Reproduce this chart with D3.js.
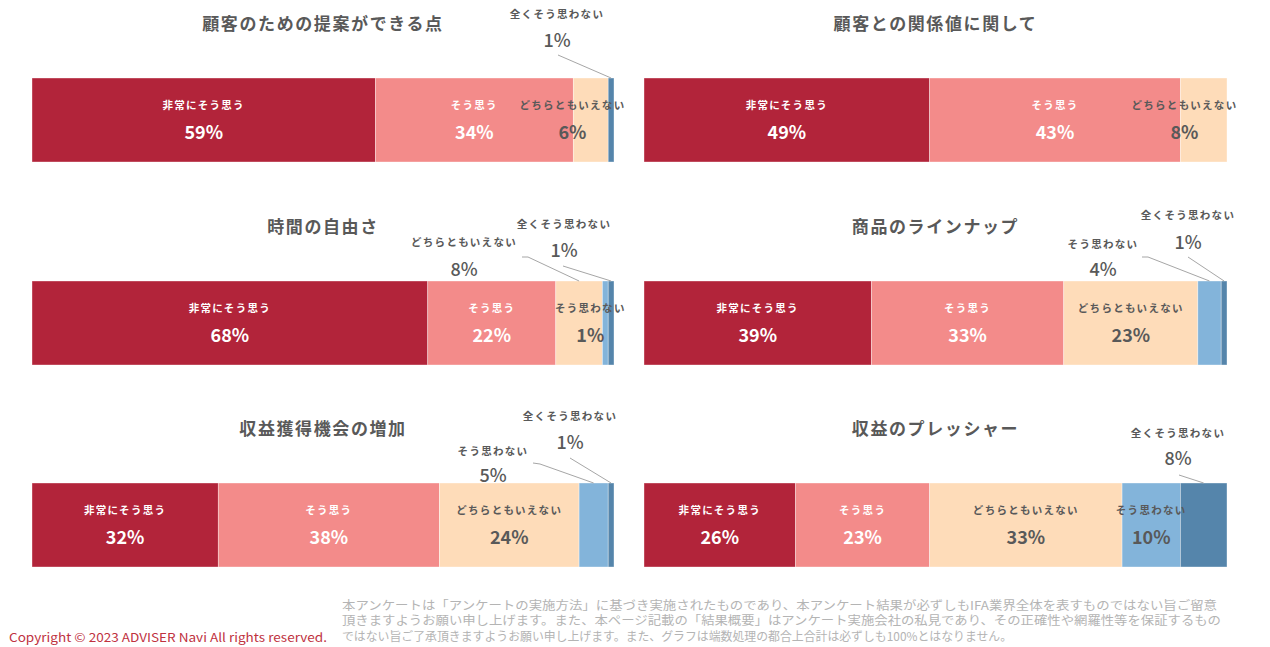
<!DOCTYPE html>
<html><head><meta charset="utf-8">
<script src="https://cdn.jsdelivr.net/npm/d3@7"></script>
<style>
html,body{margin:0;padding:0;background:#fff;}
svg{display:block;font-family:"Noto Sans CJK JP","Noto Sans",sans-serif;}
</style></head>
<body>
<svg id="chart" width="1270" height="647"></svg>
<script>
// ---- data ----
const categories = ["非常にそう思う", "そう思う", "どちらともいえない", "そう思わない", "全くそう思わない"];
const chartTitles = ["顧客のための提案ができる点", "顧客との関係値に関して", "時間の自由さ", "商品のラインナップ", "収益獲得機会の増加", "収益のプレッシャー"];
const valuesProposal  = [59, 34, 6, 0, 1];
const valuesRelation  = [49, 43, 8, 0, 0];
const valuesTime      = [68, 22, 8, 1, 1];
const valuesLineup    = [39, 33, 23, 4, 1];
const valuesOpportun  = [32, 38, 24, 5, 1];
const valuesPressure  = [26, 23, 33, 10, 8];
const seriesValues = [valuesProposal, valuesRelation, valuesTime, valuesLineup, valuesOpportun, valuesPressure];
const axisTicks = [0, 100];
const copyrightText = "Copyright © 2023 ADVISER Navi All rights reserved.";
const noteLines = [
  "本アンケートは「アンケートの実施方法」に基づき実施されたものであり、本アンケート結果が必ずしもIFA業界全体を表すものではない旨ご留意",
  "頂きますようお願い申し上げます。また、本ページ記載の「結果概要」はアンケート実施会社の私見であり、その正確性や網羅性等を保証するもの",
  "ではない旨ご了承頂きますようお願い申し上げます。また、グラフは端数処理の都合上合計は必ずしも100%とはなりません。"
];

// ---- layout / style ----
const colors = ["#B2243A", "#F38B8A", "#FEDCB9", "#83B4DA", "#5585AB"];
const textColors = ["#ffffff", "#ffffff", "#595959", "#595959", "#595959"];
const panels = [
  {x0: 32, x1: 614, top: 78, clampR: 626},
  {x0: 644, x1: 1227, top: 78, clampR: 1238},
  {x0: 32, x1: 614, top: 281, clampR: 626},
  {x0: 644, x1: 1227, top: 281, clampR: 1238},
  {x0: 32, x1: 614, top: 483, clampR: 626},
  {x0: 644, x1: 1227, top: 483, clampR: 1238}
];
const barH = 84;
// callouts: seg index, label offsets relative to panel x0 / bar top
const callouts = [
  [{seg: 4, dx: 525, ly: -65, py: -39, line: [[526, -23]]}],
  [],
  [{seg: 2, dx: 432, ly: -40, py: -13, line: [[490, -24], [496, -24]]},
   {seg: 4, dx: 532, ly: -58, py: -32, line: [[531, -15]]}],
  [{seg: 3, dx: 459, ly: -38, py: -13, line: [[498, -24], [504, -24]]},
   {seg: 4, dx: 544, ly: -67, py: -40, line: [[544, -24]]}],
  [{seg: 3, dx: 461, ly: -33, py: -9, line: [[501, -20], [508, -19]]},
   {seg: 4, dx: 538, ly: -68, py: -42, line: [[538, -25]]}],
  [{seg: 4, dx: 534, ly: -51, py: -26, line: [[535, -8]]}]
];

const svg = d3.select("#chart");

seriesValues.forEach((vals, ci) => {
  const p = panels[ci];
  const x = d3.scaleLinear().domain(d3.extent(axisTicks)).range([p.x0, p.x1]);
  const g = svg.append("g");
  // title
  g.append("text")
    .attr("x", (p.x0 + p.x1) / 2).attr("y", p.top - 56)
    .attr("text-anchor", "middle").attr("dominant-baseline", "central")
    .attr("font-size", 17).attr("font-weight", "bold").attr("letter-spacing", "1.6px")
    .attr("fill", "#595959").text(chartTitles[ci]);

  let cum = 0;
  const segs = vals.map((v, i) => { const s = {v, i, start: cum, end: cum + v}; cum += v; return s; });
  g.selectAll("rect").data(segs.filter(s => s.v > 0)).join("rect")
    .attr("x", s => x(s.start)).attr("width", s => x(s.end) - x(s.start))
    .attr("y", p.top).attr("height", barH)
    .attr("fill", s => colors[s.i])
    .attr("stroke", "#ffffff").attr("stroke-width", 0.6).attr("stroke-opacity", 0.6);

  const outSegs = callouts[ci].map(c => c.seg);
  segs.filter(s => s.v > 0 && !outSegs.includes(s.i)).forEach(s => {
    const labelW = categories[s.i].length * 11.9;
    let cx = (x(s.start) + x(s.end)) / 2;
    if (cx + labelW / 2 > p.clampR) cx = p.clampR - labelW / 2;
    g.append("text").attr("x", cx).attr("y", p.top + 26)
      .attr("text-anchor", "middle").attr("dominant-baseline", "central")
      .attr("font-size", 10.5).attr("font-weight", "bold").attr("letter-spacing", "1.3px")
      .attr("fill", textColors[s.i]).text(categories[s.i]);
    g.append("text").attr("x", cx).attr("y", p.top + 53)
      .attr("text-anchor", "middle").attr("dominant-baseline", "central")
      .attr("font-size", 18).attr("font-weight", "bold")
      .attr("fill", textColors[s.i]).text(s.v + "%");
  });

  callouts[ci].forEach(c => {
    const s = segs[c.seg];
    const end = [(x(s.start) + x(s.end)) / 2, p.top];
    const pts = c.line.map(d => [p.x0 + d[0], p.top + d[1]]).concat([end]);
    g.append("path").attr("d", d3.line()(pts))
      .attr("fill", "none").attr("stroke", "#A6A6A6").attr("stroke-width", 1);
    g.append("text").attr("x", p.x0 + c.dx).attr("y", p.top + c.ly)
      .attr("text-anchor", "middle").attr("dominant-baseline", "central")
      .attr("font-size", 10.5).attr("font-weight", "bold").attr("letter-spacing", "1.3px")
      .attr("fill", "#595959").text(categories[s.i]);
    g.append("text").attr("x", p.x0 + c.dx).attr("y", p.top + c.py)
      .attr("text-anchor", "middle").attr("dominant-baseline", "central")
      .attr("font-size", 18).attr("font-weight", 500)
      .attr("fill", "#595959").text(s.v + "%");
  });
});

// footer
svg.append("text").attr("x", 9).attr("y", 636).attr("dominant-baseline", "central")
  .attr("font-size", 12).attr("fill", "#C0323F")
  .attr("textLength", 318).attr("lengthAdjust", "spacingAndGlyphs").text(copyrightText);
const noteW = [875, 879, 670];
noteLines.forEach((t, i) => {
  svg.append("text").attr("x", 342).attr("y", 604 + i * 15.5).attr("dominant-baseline", "central")
    .attr("font-size", 12).attr("fill", "#B4B4B4")
    .attr("textLength", noteW[i]).attr("lengthAdjust", "spacingAndGlyphs").text(t);
});
</script>
</body></html>
